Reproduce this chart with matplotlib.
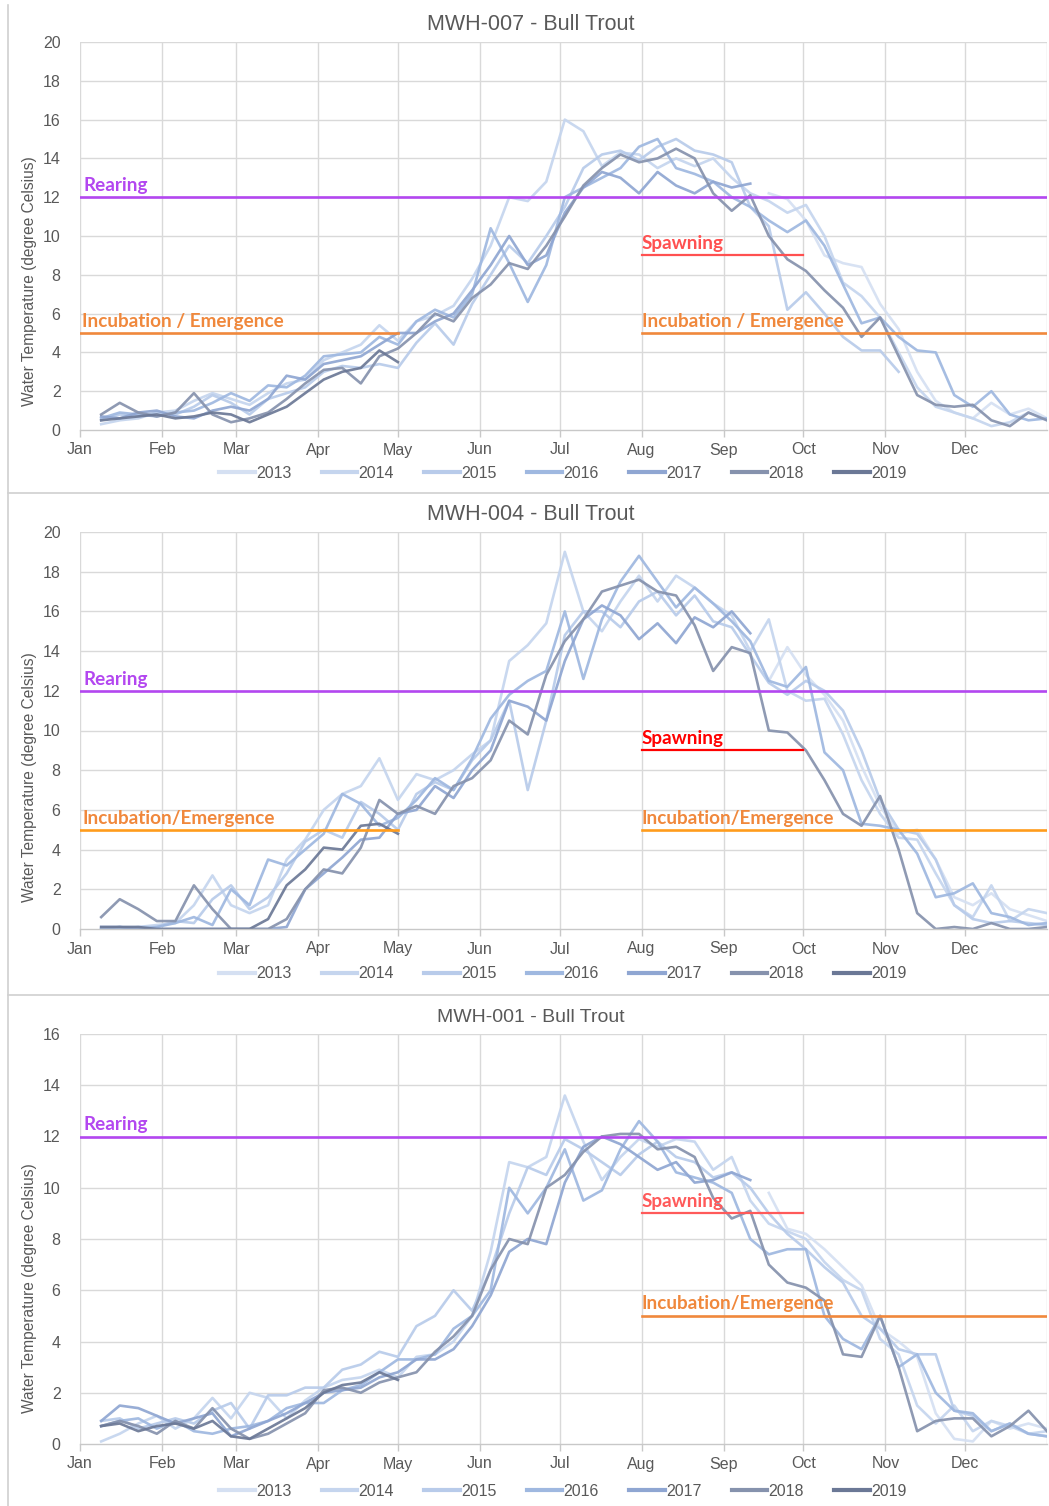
import numpy as np
import matplotlib.pyplot as plt
from matplotlib.lines import Line2D

plt.rcParams['font.family'] = ['Liberation Sans', 'DejaVu Sans']

nan = np.nan

# weekly sample days (day of year), Jan 8 .. Dec 31
days = np.arange(8, 366, 7)

years = ['2013', '2014', '2015', '2016', '2017', '2018', '2019']
year_colors = ['#d5e0f2', '#c5d5ee', '#b8cbea', '#9fb8e0', '#8fa6d2', '#8692ad', '#6b7896']

month_labels = ['Jan', 'Feb', 'Mar', 'Apr', 'May', 'Jun', 'Jul', 'Aug', 'Sep', 'Oct', 'Nov', 'Dec']
month_starts = [0, 31, 59, 90, 120, 151, 181, 212, 243, 273, 304, 334]

# ---- MWH-007 daily mean water temperature (deg C) ----
mwh007_2013 = [nan] * 36 + [12.2, 11.9, 10.8, 9.0, 8.6, 8.4, 6.5, 5.2, 3.0, 1.5, 0.9, 0.6, 1.4, 0.8, 1.1, 0.6]
mwh007_2014 = [0.3, 0.5, 0.6, 0.9, 1.0, 1.5, 1.9, 1.6, 1.3, 1.9, 2.4, 2.6,
               3.6, 4.0, 4.4, 5.4, 4.6, 5.6, 5.9, 6.4, 7.8, 9.5, 12.0, 11.8,
               12.8, 16.0, 15.4, 13.6, 14.3, 14.2, 13.5, 14.0, 13.6, 14.0, 13.0, 12.2,
               11.8, 11.2, 11.6, 10.0, 7.6, 6.9, 5.8, 4.0, 2.2, 1.2, 0.9, 0.6,
               0.2, 0.4, 0.9, 0.5]
mwh007_2015 = [0.5, 0.8, 0.7, 0.9, 0.8, 1.2, 1.8, 1.4, 0.8, 1.6, 1.9, 2.2,
               3.0, 3.3, 3.2, 3.4, 3.2, 4.5, 5.5, 4.4, 6.5, 8.0, 9.5, 8.6,
               10.0, 11.5, 13.5, 14.2, 14.4, 13.9, 14.6, 15.0, 14.4, 14.2, 13.8, 11.5,
               10.5, 6.2, 7.1, 6.0, 4.8, 4.1, 4.1, 3.0] + [nan] * 8
mwh007_2016 = [0.6, 0.9, 0.8, 0.7, 0.9, 1.0, 1.4, 1.9, 1.5, 2.3, 2.2, 2.8,
               3.8, 3.9, 4.0, 4.8, 4.4, 5.6, 6.2, 5.8, 7.0, 10.4, 8.6, 6.6,
               8.5, 12.0, 12.5, 13.0, 13.5, 14.6, 15.0, 13.5, 13.2, 12.8, 12.0, 11.5,
               10.8, 10.2, 10.8, 9.5, 7.5, 5.5, 5.8, 4.8, 4.1, 4.0, 1.8, 1.2,
               2.0, 0.8, 0.5, 0.6]
mwh007_2017 = [0.7, 0.6, 0.9, 1.0, 0.7, 0.6, 1.0, 1.2, 1.0, 1.6, 2.8, 2.6,
               3.4, 3.6, 3.8, 4.4, 5.0, 5.0, 5.6, 6.0, 7.2, 8.5, 10.0, 8.5,
               9.0, 11.2, 12.5, 13.3, 13.0, 12.2, 13.3, 12.6, 12.2, 12.8, 12.5, 12.7] + [nan] * 16
mwh007_2018 = [0.8, 1.4, 0.9, 0.7, 0.9, 1.9, 0.8, 0.4, 0.6, 0.9, 1.6, 2.4,
               3.1, 3.2, 2.4, 3.8, 4.2, 5.0, 6.0, 5.6, 6.8, 7.5, 8.6, 8.3,
               9.5, 11.0, 12.6, 13.5, 14.2, 13.8, 14.0, 14.5, 14.0, 12.2, 11.3, 12.1,
               10.0, 8.8, 8.2, 7.2, 6.3, 4.8, 5.8, 3.8, 1.8, 1.3, 1.2, 1.3,
               0.5, 0.2, 0.9, 0.5]
mwh007_2019 = [0.5, 0.6, 0.7, 0.8, 0.6, 0.7, 0.9, 0.8, 0.4, 0.8, 1.2, 1.9,
               2.6, 3.0, 3.2, 4.1, 3.5] + [nan] * 35

# ---- MWH-004 ----
mwh004_2013 = [nan] * 36 + [12.5, 14.2, 12.8, 11.8, 10.5, 8.2, 6.2, 4.8, 5.0, 3.5, 1.6, 1.2, 1.8, 1.0, 0.7, 0.4]
mwh004_2014 = [0.0, 0.1, 0.1, 0.2, 0.3, 1.2, 2.7, 1.2, 0.8, 1.2, 3.5, 4.5,
               6.0, 6.8, 7.2, 8.6, 6.5, 7.8, 7.5, 8.0, 8.8, 9.5, 13.5, 14.3,
               15.4, 19.0, 16.0, 15.0, 16.5, 17.8, 16.5, 17.8, 17.2, 16.4, 15.8, 14.0,
               15.6, 12.0, 11.5, 11.6, 9.8, 7.5, 5.8, 4.6, 4.5, 2.8, 1.2, 0.6,
               2.2, 0.4, 1.0, 0.8]
mwh004_2015 = [0.0, 0.0, 0.1, 0.1, 0.4, 0.3, 1.5, 2.2, 1.0, 1.6, 2.8, 4.4,
               5.0, 4.6, 6.4, 5.8, 5.0, 6.8, 7.4, 7.0, 8.5, 9.5, 11.5, 7.0,
               10.5, 14.8, 16.0, 16.0, 15.2, 16.5, 17.0, 15.8, 16.8, 15.5, 15.2, 13.8,
               12.4, 11.8, 12.5, 12.0, 11.0, 9.0, 6.5, 5.0, 4.8, 3.5, 1.2, 0.5,
               0.3, 0.4, 0.3, 0.2]
mwh004_2016 = [0.0, 0.1, 0.0, 0.1, 0.3, 0.6, 0.2, 2.0, 1.2, 3.5, 3.2, 4.0,
               4.8, 6.8, 6.3, 5.2, 5.6, 6.5, 7.6, 7.0, 8.6, 10.6, 11.8, 12.5,
               13.0, 16.0, 12.6, 15.6, 17.5, 18.8, 17.5, 16.2, 17.2, 16.4, 15.5, 14.5,
               12.5, 12.2, 13.2, 8.9, 8.0, 5.3, 5.2, 5.0, 3.8, 1.6, 1.8, 2.3,
               0.8, 0.6, 0.2, 0.3]
mwh004_2017 = [0.1, 0.1, 0.0, 0.0, 0.0, 0.0, 0.0, 0.0, 0.0, 0.0, 0.1, 2.0,
               2.8, 3.6, 4.5, 4.6, 5.8, 6.0, 7.2, 6.6, 8.0, 9.0, 11.5, 11.2,
               10.5, 13.5, 15.6, 16.3, 15.8, 14.6, 15.4, 14.4, 15.7, 15.2, 16.0, 14.9] + [nan] * 16
mwh004_2018 = [0.6, 1.5, 1.0, 0.4, 0.4, 2.2, 1.0, 0.0, 0.0, 0.0, 0.5, 2.0,
               3.0, 2.8, 4.1, 6.5, 5.8, 6.2, 5.8, 7.2, 7.6, 8.5, 10.5, 9.8,
               12.8, 14.5, 15.6, 17.0, 17.3, 17.6, 17.0, 16.8, 15.3, 13.0, 14.2, 13.9,
               10.0, 9.9, 9.0, 7.5, 5.8, 5.2, 6.7, 4.0, 0.8, 0.0, 0.1, 0.0,
               0.3, 0.0, 0.0, 0.1]
mwh004_2019 = [0.1, 0.1, 0.1, 0.0, 0.0, 0.0, 0.0, 0.0, 0.0, 0.5, 2.2, 3.0,
               4.1, 4.0, 5.2, 5.3, 4.8] + [nan] * 35

# ---- MWH-001 ----
mwh001_2013 = [nan] * 36 + [9.8, 8.4, 8.2, 7.6, 6.9, 6.2, 4.5, 4.0, 3.4, 1.2, 0.2, 0.1, 0.9, 0.6, 0.8, 0.6]
mwh001_2014 = [0.1, 0.4, 0.8, 1.1, 0.6, 1.0, 1.8, 1.0, 2.0, 1.8, 1.0, 1.7,
               2.2, 2.5, 2.6, 2.9, 2.6, 3.4, 3.5, 4.0, 5.0, 7.5, 11.0, 10.8,
               11.2, 13.6, 11.8, 10.3, 11.2, 11.9, 11.6, 11.9, 11.8, 10.7, 11.2, 9.5,
               8.6, 8.3, 8.0, 7.1, 6.4, 6.0, 4.1, 3.5, 1.5, 0.8, 1.5, 0.5,
               0.9, 0.7, 0.4, 0.5]
mwh001_2015 = [0.9, 1.0, 0.6, 0.8, 1.0, 0.8, 1.3, 1.6, 0.6, 1.9, 1.9, 2.2,
               2.2, 2.9, 3.1, 3.6, 3.4, 4.6, 5.0, 6.0, 5.2, 6.8, 9.0, 10.8,
               10.5, 11.9, 11.5, 11.0, 10.5, 11.3, 11.8, 11.2, 11.0, 10.4, 10.6, 10.0,
               9.0, 8.2, 7.6, 6.9, 6.3, 5.0, 4.5, 3.7, 3.5, 3.5, 1.3, 1.1,
               0.5, 0.8, 0.4, 0.3]
mwh001_2016 = [0.7, 0.9, 1.0, 0.6, 0.9, 0.5, 0.4, 0.6, 0.7, 0.9, 1.4, 1.6,
               1.6, 2.1, 2.3, 2.8, 3.3, 3.3, 3.5, 4.5, 5.0, 6.0, 10.0, 9.0,
               10.0, 11.5, 9.5, 9.9, 11.5, 12.6, 11.8, 10.6, 10.4, 10.2, 9.8, 8.0,
               7.4, 7.6, 7.6, 5.0, 4.1, 3.7, 5.0, 3.0, 3.5, 2.0, 1.3, 1.2,
               0.5, 0.8, 0.4, 0.3]
mwh001_2017 = [0.9, 1.5, 1.4, 1.1, 0.8, 1.0, 1.2, 0.3, 0.6, 0.9, 1.2, 1.6,
               2.0, 2.1, 2.2, 2.6, 2.8, 3.3, 3.3, 3.7, 4.6, 5.8, 7.5, 8.0,
               7.8, 10.2, 11.6, 12.0, 11.7, 11.2, 10.7, 11.0, 10.2, 10.3, 10.6, 10.3] + [nan] * 16
mwh001_2018 = [0.7, 0.9, 0.7, 0.4, 0.9, 0.6, 1.4, 0.6, 0.2, 0.4, 0.8, 1.2,
               2.1, 2.2, 2.0, 2.4, 2.6, 2.8, 3.6, 4.2, 5.0, 6.8, 8.0, 7.8,
               10.0, 10.5, 11.4, 12.0, 12.1, 12.1, 11.5, 11.6, 11.2, 9.6, 8.8, 9.1,
               7.0, 6.3, 6.1, 5.6, 3.5, 3.4, 5.0, 3.0, 0.5, 0.9, 1.0, 1.0,
               0.3, 0.7, 1.3, 0.5]
mwh001_2019 = [0.7, 0.8, 0.5, 0.7, 0.8, 0.6, 0.9, 0.3, 0.2, 0.6, 1.0, 1.4,
               2.0, 2.3, 2.4, 2.8, 2.5] + [nan] * 35

W, H = 1049, 1506
fig = plt.figure(figsize=(W / 100, H / 100), dpi=100)

TXT = '#595959'
GRID = '#d9d9d9'
PURPLE = '#b347f0'

panels = [
    dict(title='MWH-007 - Bull Trout', title_size=15.5, top=42, bottom=430, ymax=20,
         legend_y=473, ylabel_y=281, title_y=25,
         series=[mwh007_2013, mwh007_2014, mwh007_2015, mwh007_2016,
                 mwh007_2017, mwh007_2018, mwh007_2019],
         spawn_color='#ff5050', inc_line='#f0883c', inc_text='#f0883c',
         inc_label='Incubation / Emergence', inc_left=True),
    dict(title='MWH-004 - Bull Trout', title_size=15.5, top=532, bottom=929, ymax=20,
         legend_y=974, ylabel_y=777, title_y=515,
         series=[mwh004_2013, mwh004_2014, mwh004_2015, mwh004_2016,
                 mwh004_2017, mwh004_2018, mwh004_2019],
         spawn_color='#ff0000', inc_line='#ff9c1c', inc_text='#f0883c',
         inc_label='Incubation/Emergence', inc_left=True),
    dict(title='MWH-001 - Bull Trout', title_size=14, top=1034, bottom=1444, ymax=16,
         legend_y=1491, ylabel_y=1288, title_y=1018,
         series=[mwh001_2013, mwh001_2014, mwh001_2015, mwh001_2016,
                 mwh001_2017, mwh001_2018, mwh001_2019],
         spawn_color='#ff5a5a', inc_line='#f0883c', inc_text='#f0883c',
         inc_label='Incubation/Emergence', inc_left=False),
]

left_px, right_px = 80, 1047
label_font = ['Lato', 'DejaVu Sans']
LBL = 13.6

for p in panels:
    ax = fig.add_axes([left_px / W, 1 - p['bottom'] / H,
                       (right_px - left_px) / W, (p['bottom'] - p['top']) / H])
    ax.set_xlim(0, 365)
    ax.set_ylim(0, p['ymax'])

    # grid: month starts plus the closing Dec 31 line, every 2 degrees
    for d in month_starts[1:] + [365]:
        ax.axvline(d, color=GRID, lw=1.0, zorder=0)
    for v in range(2, p['ymax'] + 1, 2):
        ax.axhline(v, color=GRID, lw=1.0, zorder=0)
    ax.axvline(0, color=GRID, lw=1.0, zorder=0)

    for s in ['top', 'right', 'left']:
        ax.spines[s].set_visible(False)
    ax.spines['bottom'].set_color('#c8c8c8')
    ax.spines['bottom'].set_linewidth(1.0)

    ax.set_xticks(month_starts)
    ax.set_xticklabels(month_labels)
    ax.set_yticks(range(0, p['ymax'] + 1, 2))
    ax.tick_params(axis='x', colors='#c8c8c8', labelcolor=TXT, labelsize=11.5,
                   length=5, width=1, direction='out', pad=4)
    ax.tick_params(axis='y', colors=TXT, labelsize=11.5, length=0, pad=14)

    # temperature series
    for yr, col, vals in zip(years, year_colors, p['series']):
        ax.plot(days, vals, color=col, lw=1.9, alpha=0.92, zorder=2,
                solid_joinstyle='round')

    # life stage thresholds
    ax.plot([0, 365], [12, 12], color=PURPLE, lw=1.9, zorder=3)
    ax.text(1.2, 12.15, 'Rearing', color=PURPLE, fontsize=LBL, fontweight='bold',
            family=label_font, va='bottom', ha='left', zorder=4)

    ax.plot([212, 273], [9, 9], color=p['spawn_color'], lw=1.6, zorder=3)
    ax.text(212, 9.15, 'Spawning', color=p['spawn_color'], fontsize=LBL,
            fontweight='bold', family=label_font, va='bottom', ha='left', zorder=4)

    if p['inc_left']:
        ax.plot([0, 120], [5, 5], color=p['inc_line'], lw=1.9, zorder=3)
        ax.text(0.8, 5.15, p['inc_label'], color=p['inc_text'], fontsize=LBL,
                fontweight='bold', family=label_font, va='bottom', ha='left', zorder=4)
    ax.plot([212, 365], [5, 5], color=p['inc_line'], lw=1.9, zorder=3)
    ax.text(212, 5.15, p['inc_label'], color=p['inc_text'], fontsize=LBL,
            fontweight='bold', family=label_font, va='bottom', ha='left', zorder=4)

    fig.text(531 / W, 1 - p['title_y'] / H, p['title'], color=TXT,
             fontsize=p['title_size'], ha='center', va='center')
    fig.text(30 / W, 1 - p['ylabel_y'] / H, 'Water Temperature (degree Celsius)',
             color=TXT, fontsize=11.2, rotation=90, ha='center', va='center')

    handles = [Line2D([0], [0], color=c, lw=3) for c in year_colors]
    fig.legend(handles, years, loc='center', ncol=7, frameon=False,
               bbox_to_anchor=(563 / W, 1 - p['legend_y'] / H),
               fontsize=11.5, labelcolor=TXT, handlelength=2.2,
               handletextpad=0.1, columnspacing=1.9)

# chart frame separators
for y in [493, 995]:
    fig.add_artist(Line2D([8 / W, 1], [1 - y / H, 1 - y / H], color='#d0d0d0', lw=1.2))
fig.add_artist(Line2D([8 / W, 8 / W], [0, 1 - 5 / H], color='#d0d0d0', lw=1.2))

fig.savefig('out.png', dpi=100, facecolor='white')
